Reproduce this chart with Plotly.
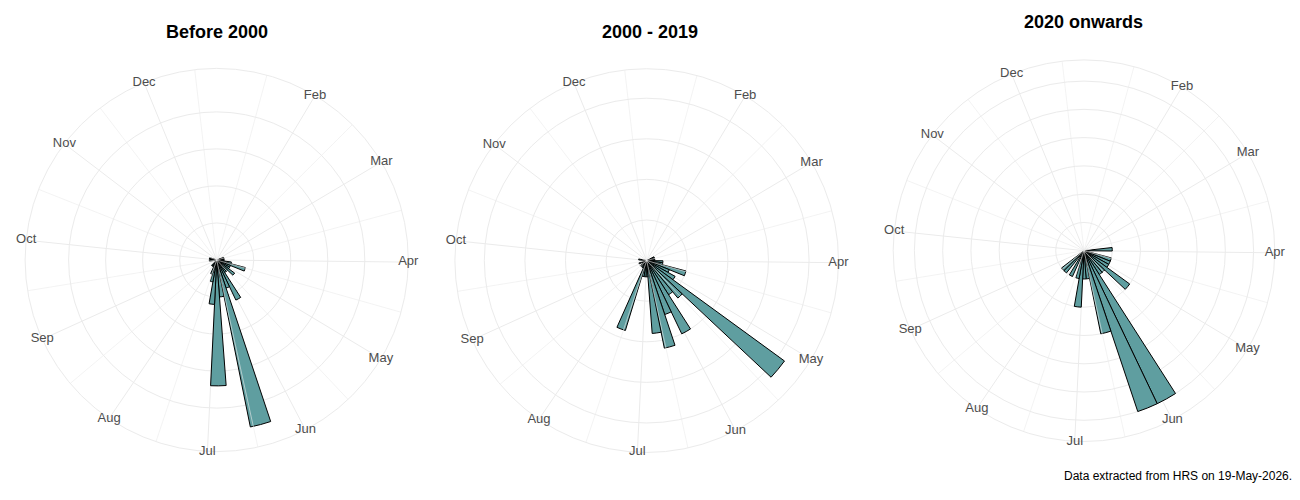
import datetime as dt
import plotly.graph_objects as go

# ---------------- data ----------------
panel_titles = ["Before 2000", "2000 - 2019", "2020 onwards"]
month_labels = ["Feb", "Mar", "Apr", "May", "Jun", "Jul", "Aug", "Sep", "Oct", "Nov", "Dec"]
month_numbers = [2, 3, 4, 5, 6, 7, 8, 9, 10, 11, 12]

weeks_before_2000 = [11, 12, 13, 14, 15, 16, 17, 18, 19, 20, 21, 22, 23, 24, 25, 26, 27, 28, 29, 30, 31, 32, 38, 40, 41]
counts_before_2000 = [1, 1, 1, 1, 2, 4, 2, 2, 3, 2, 2, 6, 4, 23, 5, 17, 6, 3, 2, 1, 1, 1, 1, 1, 1]

weeks_2000_2019 = [10, 11, 12, 13, 14, 15, 16, 17, 18, 19, 20, 21, 22, 23, 24, 25, 26, 27, 28, 29, 30, 31, 33, 36, 40]
counts_2000_2019 = [1, 1, 1, 1, 2, 2, 5, 3, 4, 21, 6, 5, 10, 7, 11, 9, 2, 2, 2, 9, 1, 1, 1, 1, 1]

weeks_2020_on = [13, 16, 17, 18, 19, 20, 21, 22, 23, 24, 25, 26, 27, 28, 30, 32, 33]
counts_2020_on = [1, 1, 1, 1, 2, 1, 1, 6, 6, 3, 1, 1, 2, 1, 1, 1, 1]

caption_text = "Data extracted from HRS on 19-May-2026."

# ---------------- scales ----------------
START_DOY = 1.5
DAYS_PER_TURN = 355.5
BIN_DAYS = 7


def doy_to_deg(d):
    return (d - START_DOY) * 360.0 / DAYS_PER_TURN


def week_center_doy(w):
    return BIN_DAYS * w - BIN_DAYS / 2.0


month_start_doy = [dt.date(2001, m, 1).timetuple().tm_yday for m in month_numbers]
all_starts = [1] + month_start_doy + [366]
minor_doy = [(a + b) / 2.0 for a, b in zip(all_starts[:-1], all_starts[1:])]

major_theta = [doy_to_deg(d) for d in month_start_doy]
minor_theta = [doy_to_deg(d) for d in minor_doy]
bar_width_deg = BIN_DAYS * 360.0 / DAYS_PER_TURN

panels = [
    (weeks_before_2000, counts_before_2000, [5, 10, 15, 20]),
    (weeks_2000_2019, counts_2000_2019, [5, 10, 15, 20]),
    (weeks_2020_on, counts_2020_on, [1, 2, 3, 4, 5, 6]),
]

# pixel geometry of each panel (center x, center y, radius) in the 1300x500 page
W, H = 1300, 500
geom = [(216.7, 260.0, 191.6), (646.7, 260.6, 191.8), (1084.0, 250.7, 190.8)]
title_pos = [(216.5, 32.0), (650.0, 32.0), (1083.0, 22.0)]

GRID = "#EBEBEB"
FILL = "#5F9EA0"
FONT = "Liberation Sans, Arial, sans-serif"

fig = go.Figure()
layout_polars = {}

for i, ((weeks, counts, rbreaks), (cx, cy, R)) in enumerate(zip(panels, geom)):
    pid = "polar" if i == 0 else f"polar{i + 1}"
    M = max(counts)
    r_outer = M * 0.45 / 0.4

    # minor theta grid lines
    rr, tt = [], []
    for a in minor_theta:
        rr += [0, r_outer, None]
        tt += [a, a, None]
    fig.add_trace(go.Scatterpolar(
        r=rr, theta=tt, mode="lines", subplot=pid,
        line=dict(color=GRID, width=0.6), hoverinfo="skip", showlegend=False,
    ))

    fig.add_trace(go.Barpolar(
        r=counts,
        theta=[doy_to_deg(week_center_doy(w)) for w in weeks],
        width=[bar_width_deg] * len(weeks),
        subplot=pid,
        marker=dict(color=FILL, line=dict(color="black", width=1)),
        showlegend=False,
    ))

    fig.add_trace(go.Scatterpolar(
        r=[r_outer] * len(major_theta), theta=major_theta, text=month_labels,
        mode="text", subplot=pid, cliponaxis=False,
        textfont=dict(family=FONT, size=13, color="#4D4D4D"),
        hoverinfo="skip", showlegend=False,
    ))

    layout_polars[pid] = dict(
        domain=dict(x=[(cx - R) / W, (cx + R) / W], y=[1 - (cy + R) / H, 1 - (cy - R) / H]),
        bgcolor="white",
        barmode="overlay",
        radialaxis=dict(range=[0, r_outer], tickvals=rbreaks, showticklabels=False,
                        ticks="", showline=False, gridcolor=GRID, gridwidth=1,
                        layer="below traces"),
        angularaxis=dict(direction="clockwise", rotation=90, thetaunit="degrees",
                         tickvals=major_theta, showticklabels=False, ticks="",
                         showgrid=True, gridcolor=GRID, gridwidth=1,
                         showline=True, linecolor=GRID, linewidth=1,
                         layer="below traces"),
    )

annotations = []
for t, (tx, ty) in zip(panel_titles, title_pos):
    annotations.append(dict(
        text=t, x=tx / W, y=1 - ty / H, xref="paper", yref="paper",
        xanchor="center", yanchor="middle", showarrow=False,
        font=dict(family=FONT, size=18, color="black", weight="bold"),
    ))
annotations.append(dict(
    text=caption_text, x=1294 / W, y=1 - 476 / H, xref="paper", yref="paper",
    xanchor="right", yanchor="middle", showarrow=False,
    font=dict(family=FONT, size=12, color="black"),
))

fig.update_layout(
    width=W, height=H,
    margin=dict(l=0, r=0, t=0, b=0),
    paper_bgcolor="white", plot_bgcolor="white",
    showlegend=False,
    annotations=annotations,
    **layout_polars,
)

fig.write_html("out.html")
